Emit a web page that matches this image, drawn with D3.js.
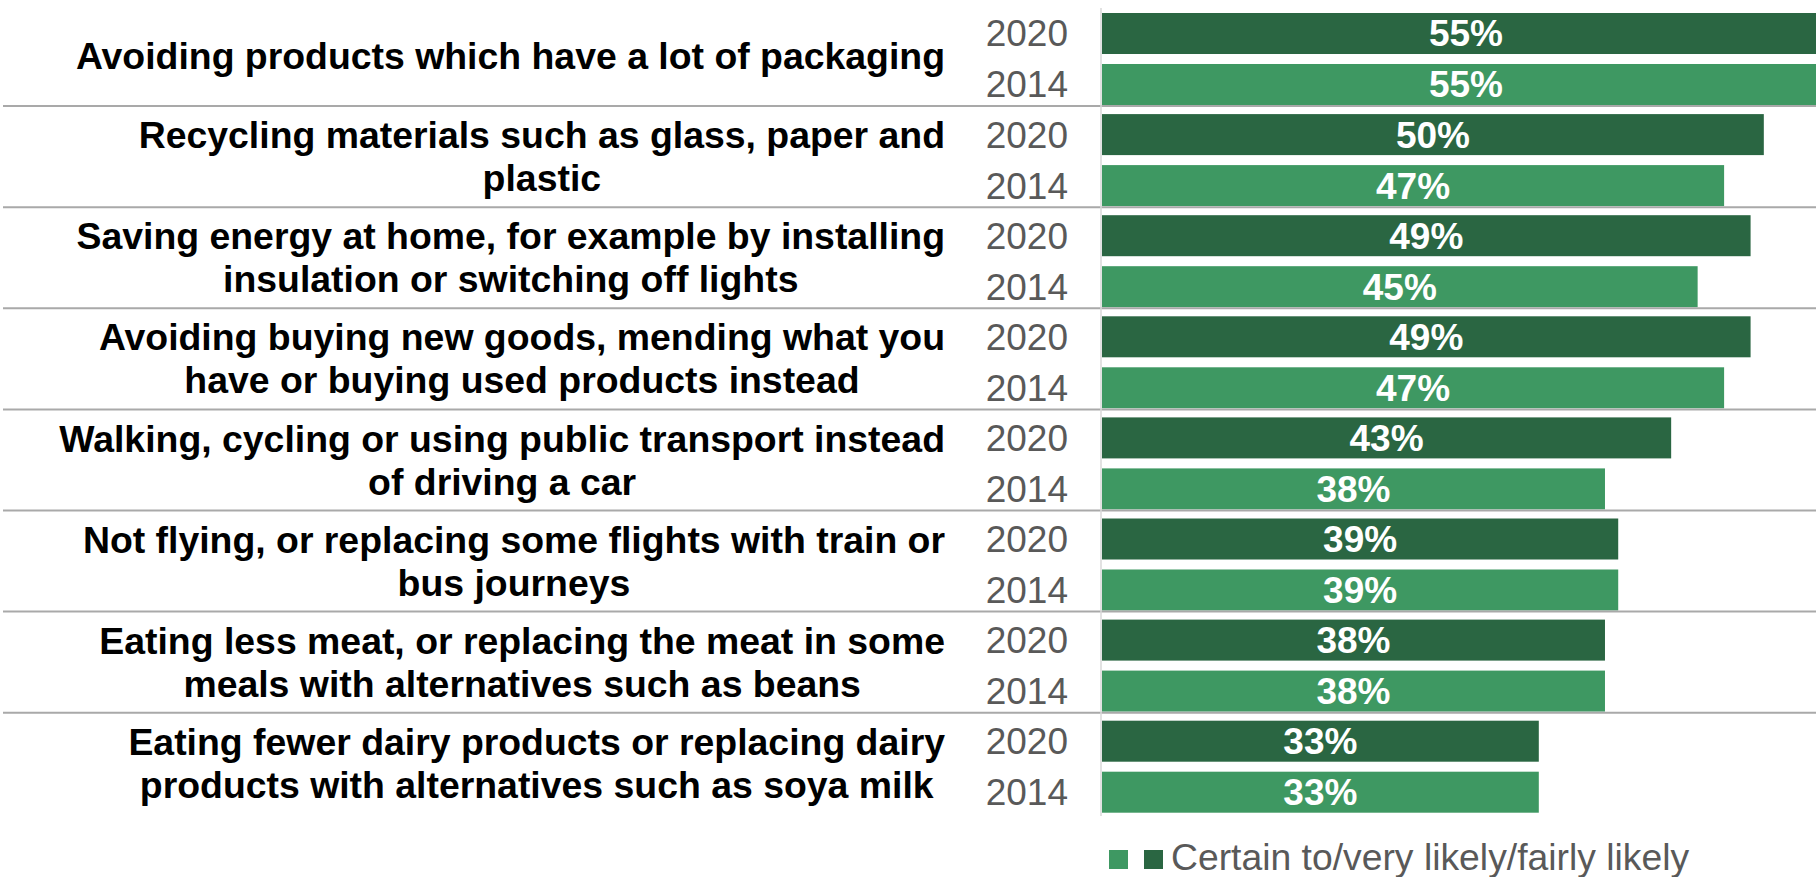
<html>
  <head>
    <meta charset="utf-8">
    <style>
      body { margin: 0; background: #fff; }
      text { font-family: "Liberation Sans", Arial, sans-serif; }
      .cat { font-weight: bold; fill: #000; font-size: 37.4px; }
      .year { fill: #595959; font-size: 37px; }
      .val { fill: #fff; font-weight: bold; font-size: 37px; }
      .legend text { fill: #595959; font-size: 37.3px; }
      .sep { stroke: #a9a9a9; stroke-width: 2px; }
      .axis-line { stroke: #d9d9d9; stroke-width: 1.5px; }
    </style>
  </head>
<body>
  <svg width="1816" height="877"></svg>
  <script src="https://d3js.org/d3.v7.min.js"></script>
  <script>
    // label lines separated by \n
    var categories = [
      "Avoiding products which have a lot of packaging",
      "Recycling materials such as glass, paper and\nplastic",
      "Saving energy at home, for example by installing\ninsulation or switching off lights",
      "Avoiding buying new goods, mending what you\nhave or buying used products instead",
      "Walking, cycling or using public transport instead\nof driving a car",
      "Not flying, or replacing some flights with train or\nbus journeys",
      "Eating less meat, or replacing the meat in some\nmeals with alternatives such as beans",
      "Eating fewer dairy products or replacing dairy\nproducts with alternatives such as soya milk"
    ];
    var years = ["2020", "2014"];
    var values2020 = [55, 50, 49, 49, 43, 39, 38, 33];
    var values2014 = [55, 47, 45, 47, 38, 39, 38, 33];
    var legendLabel = "Certain to/very likely/fairly likely";

    var colors = {"2020": "#2a6642", "2014": "#3e9862"};

    var svg = d3.select("svg");

    var y = d3.scaleBand()
      .domain(categories)
      .range([5, 5 + 8 * 101.1]);

    var yInner = d3.scaleBand()
      .domain(years)
      .range([8, 100])
      .paddingInner(0.196);

    var x = d3.scaleLinear()
      .domain([0, 55])
      .range([1102, 1830]);

    var rows = [];
    categories.forEach(function(c, i) {
      rows.push({cat: c, year: "2020", value: values2020[i]});
      rows.push({cat: c, year: "2014", value: values2014[i]});
    });

    // bars
    svg.append("g").selectAll("rect")
      .data(rows)
      .join("rect")
        .attr("x", x(0))
        .attr("y", function(d) { return y(d.cat) + yInner(d.year); })
        .attr("width", function(d) { return x(d.value) - x(0); })
        .attr("height", yInner.bandwidth())
        .attr("fill", function(d) { return colors[d.year]; });

    // value labels
    svg.append("g").selectAll("text")
      .data(rows)
      .join("text")
        .attr("class", "val")
        .attr("x", function(d) { return (x(0) + x(d.value)) / 2; })
        .attr("y", function(d) { return y(d.cat) + yInner(d.year) + yInner.bandwidth() / 2; })
        .attr("dy", "0.35em")
        .attr("text-anchor", "middle")
        .text(function(d) { return d.value + "%"; });

    // year labels
    svg.append("g").selectAll("text")
      .data(rows)
      .join("text")
        .attr("class", "year")
        .attr("x", 1068)
        .attr("y", function(d) { return y(d.cat) + yInner(d.year) + yInner.bandwidth() / 2; })
        .attr("dy", "0.35em")
        .attr("text-anchor", "end")
        .text(function(d) { return d.year; });

    // category labels: centred block, widest line flush right
    var labelRight = 945;
    var lineH = 43;
    categories.forEach(function(c) {
      var lines = c.split("\n");
      var cy = y(c) + y.bandwidth() / 2;
      var t = svg.append("text")
        .attr("class", "cat")
        .attr("text-anchor", "middle");
      lines.forEach(function(l, j) {
        t.append("tspan")
          .attr("y", cy + (j - (lines.length - 1) / 2) * lineH)
          .attr("dy", "0.35em")
          .text(l);
      });
      var maxW = 0;
      t.selectAll("tspan").each(function() {
        maxW = Math.max(maxW, this.getComputedTextLength());
      });
      t.selectAll("tspan").attr("x", labelRight - maxW / 2);
    });

    // separators between groups
    svg.append("g").selectAll("line")
      .data(categories.slice(0, -1))
      .join("line")
        .attr("class", "sep")
        .attr("x1", 3)
        .attr("x2", 1816)
        .attr("y1", function(d) { return y(d) + y.bandwidth(); })
        .attr("y2", function(d) { return y(d) + y.bandwidth(); });

    // vertical axis line
    svg.append("line")
      .attr("class", "axis-line")
      .attr("x1", 1101).attr("x2", 1101)
      .attr("y1", 8).attr("y2", 816);

    // legend
    var legend = svg.append("g").attr("class", "legend");
    legend.append("rect")
      .attr("x", 1109).attr("y", 850).attr("width", 19).attr("height", 19)
      .attr("fill", colors["2014"]);
    legend.append("rect")
      .attr("x", 1144).attr("y", 850).attr("width", 19).attr("height", 19)
      .attr("fill", colors["2020"]);
    legend.append("text")
      .attr("x", 1171)
      .attr("y", 870)
      .text(legendLabel);
  </script>
  </body>
</html>
